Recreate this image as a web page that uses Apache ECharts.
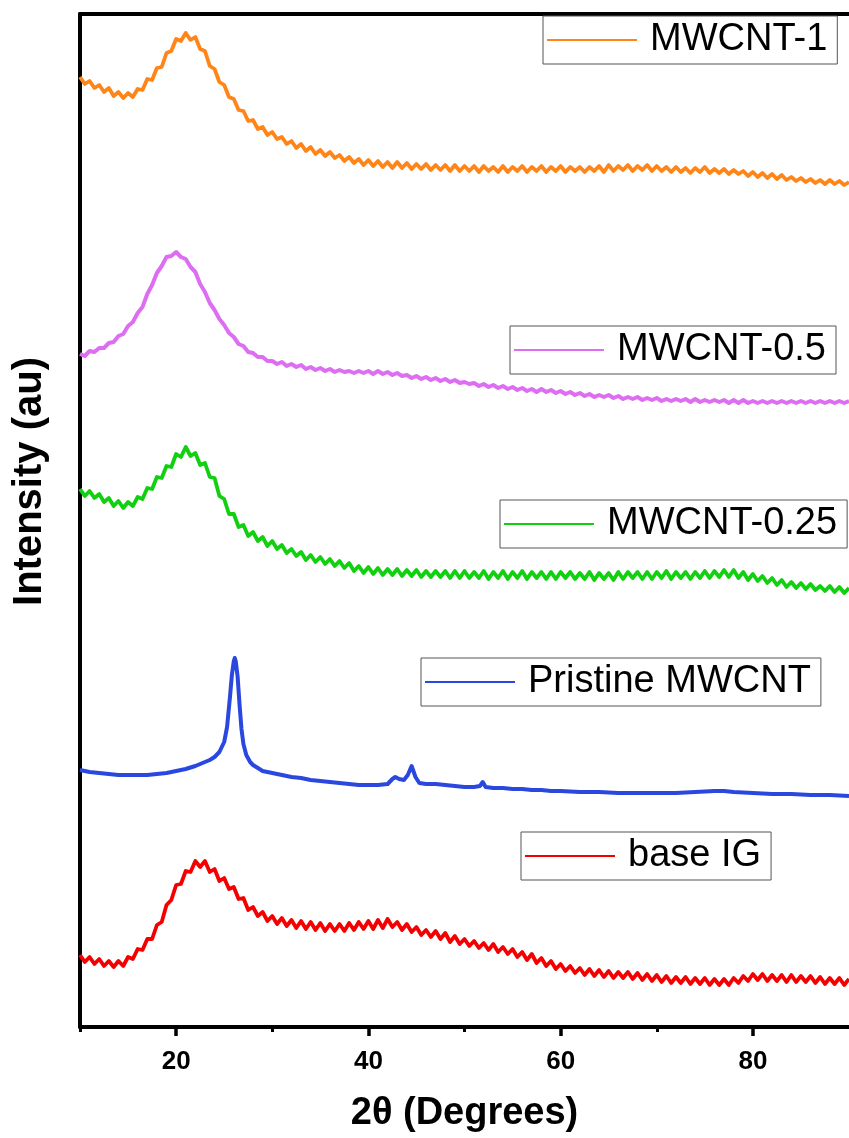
<!DOCTYPE html>
<html>
<head>
<meta charset="utf-8">
<script src="https://cdn.jsdelivr.net/npm/echarts@6/dist/echarts.min.js"></script>
<style>html,body{margin:0;padding:0;background:#fff;}#c{width:849px;height:1138px;}</style>
</head>
<body>
<div id="c"></div>
<script>
// Scan grid (2θ, degrees) for the noisy patterns
const twoTheta = Array.from({length: 161}, (_, i) => 10 + i * 0.5);

const seriesNames = ['MWCNT-1', 'MWCNT-0.5', 'MWCNT-0.25', 'Pristine MWCNT', 'base IG'];
const xTickLabels = [20, 40, 60, 80];
const xMinorTicks = [10, 30, 50, 70];

const mwcnt1 = [950,943,946,939,942,935,939,931,935,929,934,930,938,937,948,947,959,960,974,976,
988,986,994,987,990,978,976,961,958,945,942,930,928,917,916,906,907,898,900,892,
895,888,890,883,886,879,883,876,880,873,877,871,875,869,872,866,870,864,868,862,
867,861,866,860,865,859,865,859,864,858,863,858,863,857,862,857,862,856,862,856,
861,856,861,855,861,856,860,855,861,855,860,856,861,855,860,856,861,855,860,856,
861,855,860,856,860,855,860,856,861,855,862,856,861,857,862,856,861,857,862,856,
861,856,860,855,860,855,859,854,859,855,860,854,858,854,858,853,857,853,856,851,
855,850,854,849,853,848,852,847,850,846,849,845,848,844,847,843,847,843,846,842,845];

const mwcnt05 = [673,671,676,675,679,679,684,685,691,693,701,705,714,720,733,742,754,761,770,771,
775,770,768,760,755,743,735,724,717,708,702,694,690,683,681,675,674,670,670,666,
666,663,665,661,663,660,662,658,660,657,659,656,658,655,657,655,656,654,656,654,
656,653,656,653,655,652,654,651,652,649,651,648,650,647,649,646,648,645,647,644,
645,643,644,641,643,640,642,639,641,638,640,637,639,636,638,635,638,635,637,634,
636,633,635,632,634,631,633,630,632,630,632,629,631,628,630,628,630,627,629,627,
629,626,628,626,628,626,628,625,628,625,627,625,627,625,627,624,627,624,627,624,
626,624,626,624,626,624,626,624,626,624,626,624,626,624,626,624,626,624,626,624,626];

const mwcnt025 = [538,531,536,529,533,525,529,521,526,519,525,521,530,528,539,538,550,549,561,560,
573,570,580,571,574,562,564,550,549,531,528,513,513,500,502,491,495,486,490,481,
486,478,482,474,478,471,475,467,472,465,470,463,468,461,466,459,464,456,461,454,
460,453,459,452,458,452,458,451,457,451,457,450,456,450,456,450,456,449,456,449,
456,449,455,449,456,448,455,449,456,448,455,449,456,448,455,449,455,448,455,448,
455,449,455,448,454,448,455,447,454,448,454,447,455,448,455,449,455,448,455,448,
455,449,456,448,455,449,455,448,455,449,456,449,456,450,457,450,457,449,455,447,
453,446,451,444,449,442,447,440,445,439,444,438,443,437,441,436,441,435,440,434,439];

const baseIG = [72,65,70,63,68,61,66,60,66,61,70,68,78,77,88,88,102,105,122,127,
142,143,156,155,166,160,166,155,158,146,149,138,140,128,129,117,120,111,115,106,
111,103,109,101,107,99,106,98,105,97,104,96,103,96,103,96,104,97,105,98,
106,98,107,99,108,100,105,97,103,95,100,92,97,90,96,88,94,85,91,83,
88,81,86,79,84,77,83,75,80,73,78,70,75,67,73,64,69,61,66,58,
63,56,61,54,59,52,58,51,57,50,56,49,55,49,55,48,54,47,53,46,
52,45,51,44,50,44,50,43,49,43,49,42,48,42,48,42,49,44,51,46,
53,47,53,46,52,46,52,45,52,45,51,45,51,44,50,43,49,43,49,42,48];

const pristineX = [10,11,12,13,14,15,16,17,18,19,20,21,22,23,23.5,24,24.5,25,25.3,25.6,
25.8,26,26.1,26.2,26.4,26.6,26.8,27,27.3,27.7,28,28.5,29,30,31,32,33,34,35,36,
37,38,39,40,41,42,42.5,42.8,43.2,43.7,44.1,44.5,44.9,45.3,46,47,48,49,50,51,
51.6,51.9,52.2,53,54,55,56,57,58,59,60,62,64,66,68,70,72,74,76,77,
78,80,82,84,86,88,90];
const pristineY = [257,255,254,253,252,252,252,252,253,254,256,258,261,265,267,270,275,285,300,330,
352,366,369,366,350,322,298,283,272,265,262,259,256,254,252,250,249,247,246,245,
244,243,242,242,242,243,248,250,248,247,252,261,250,244,243,243,242,241,240,240,
241,245,240,239,239,238,238,237,237,236,236,235,235,234,234,234,234,235,236,236,
235,234,233,233,232,232,231];

const colors = ['#FF8519', '#DD6EF2', '#10D010', '#2A48DF', '#F40000'];

function pairs(xs, ys) { return ys.map((v, i) => [xs[i], v]); }

const seriesData = [
  pairs(twoTheta, mwcnt1),
  pairs(twoTheta, mwcnt05),
  pairs(twoTheta, mwcnt025),
  pairs(pristineX, pristineY),
  pairs(twoTheta, baseIG)
];
const lineWidths = [3.8, 4, 3.8, 4, 3.8];

const legendBoxes = [
  {left: 543, top: 16},
  {left: 510, top: 326},
  {left: 500, top: 500},
  {left: 421, top: 658},
  {left: 521, top: 832}
];

const chart = echarts.init(document.getElementById('c'), null, {renderer: 'canvas'});
const FONT = 'Liberation Sans, Arial, Helvetica, sans-serif';

const option = {
  backgroundColor: '#fff',
  animation: false,
  grid: {left: 80, right: -4, top: 14, bottom: 1138 - 1027, containLabel: false},
  xAxis: [
    {
      type: 'value', min: 10, max: 90, position: 'bottom',
      name: '2θ (Degrees)', nameLocation: 'middle', nameGap: 68,
      nameTextStyle: {fontFamily: FONT, fontWeight: 'bold', fontSize: 38, color: '#000'},
      axisLine: {show: true, onZero: false, lineStyle: {color: '#000', width: 4}},
      axisTick: {show: true, length: 9, inside: false, customValues: xTickLabels, lineStyle: {color: '#000', width: 3.5}},
      axisLabel: {show: true, customValues: xTickLabels, margin: 22, fontFamily: FONT, fontWeight: 'bold', fontSize: 26, color: '#000'},
      splitLine: {show: false}
    },
    {
      type: 'value', min: 10, max: 90, position: 'bottom',
      axisLine: {show: false},
      axisTick: {show: true, length: 5, customValues: xMinorTicks, lineStyle: {color: '#000', width: 3}},
      axisLabel: {show: false},
      splitLine: {show: false}
    },
    {
      type: 'value', min: 10, max: 90, position: 'top',
      axisLine: {show: true, onZero: false, lineStyle: {color: '#000', width: 4}},
      axisTick: {show: false}, axisLabel: {show: false}, splitLine: {show: false}
    }
  ],
  yAxis: {
    type: 'value', min: 0, max: 1013,
    name: 'Intensity (au)', nameLocation: 'middle', nameGap: 30, nameRotate: 90,
    nameTextStyle: {fontFamily: FONT, fontWeight: 'bold', fontSize: 40, color: '#000', padding: [0, 0, 0, 78]},
    axisLine: {show: true, onZero: false, lineStyle: {color: '#000', width: 4}},
    axisTick: {show: false}, axisLabel: {show: false}, splitLine: {show: false}
  },
  legend: seriesNames.map((n, i) => ({
    data: [{name: n, icon: 'rect'}],
    left: legendBoxes[i].left, top: legendBoxes[i].top,
    orient: 'horizontal',
    itemWidth: 90, itemHeight: 2,
    padding: [5, 10, 5, 4],
    borderColor: '#555', borderWidth: 1, borderRadius: 0,
    backgroundColor: '#fff',
    selectedMode: false,
    textStyle: {fontFamily: FONT, fontSize: 38, color: '#000', padding: [0, 0, 0, 8]}
  })),
  series: seriesNames.map((n, i) => ({
    name: n, type: 'line', xAxisIndex: 0,
    data: seriesData[i],
    symbol: 'none', showSymbol: false,
    smooth: false,
    lineStyle: {color: colors[i], width: lineWidths[i], join: 'round'},
    itemStyle: {color: colors[i]},
    clip: true
  }))
};
chart.setOption(option);
</script>
</body>
</html>
